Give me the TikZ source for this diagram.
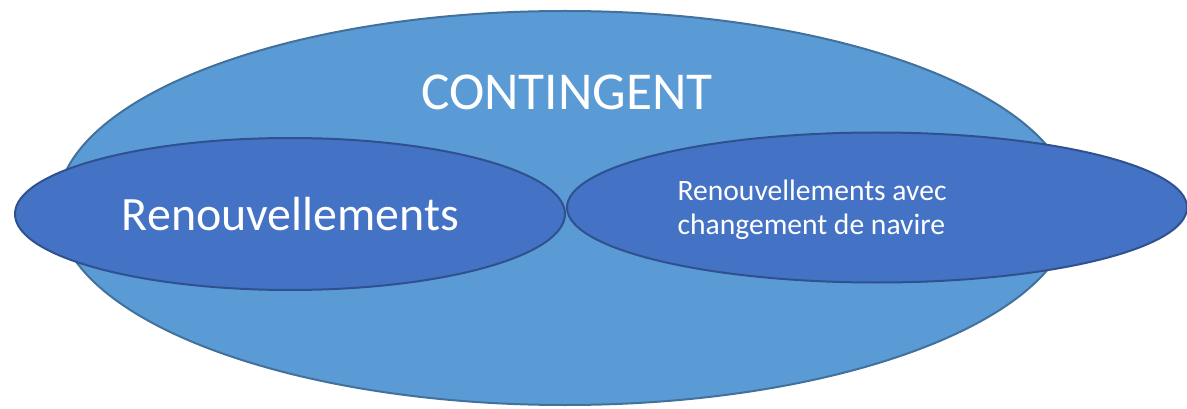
\documentclass[tikz,border=0pt]{standalone}
\usepackage{fontspec}
\setmainfont{Carlito}
\definecolor{bigfill}{HTML}{5B9BD5}
\definecolor{bigline}{HTML}{41719C}
\definecolor{smallfill}{HTML}{4472C4}
\definecolor{smallline}{HTML}{2F528F}
\begin{document}
\begin{tikzpicture}[x=1pt,y=-1pt,
  bigell/.style={fill=bigfill,draw=bigline,line width=2pt},
  smallell/.style={fill=smallfill,draw=smallline,line width=2pt},
  lbl/.style={text=white,inner sep=0pt}]
\useasboundingbox (0,0) rectangle (1187,409);
\begin{scope}
\clip (0,0) rectangle (1187,409);
\draw[bigell] (565,208) ellipse [x radius=508, y radius=197];
\draw[smallell] (290,214) ellipse [x radius=275, y radius=76];
\draw[smallell] (877,207.5) ellipse [x radius=310, y radius=75];
\end{scope}
\node[lbl,font=\fontsize{53.3}{64}\selectfont] (cont) at (567,92) {CONTINGENT};
\node[lbl,font=\fontsize{47.9}{58}\selectfont] (ren) at (290.5,214) {Renouvellements};
\node[lbl,font=\fontsize{29.6}{33.5}\selectfont,align=left] (renchg) at (812,210) {Renouvellements avec\\changement de navire};
\end{tikzpicture}
\end{document}
